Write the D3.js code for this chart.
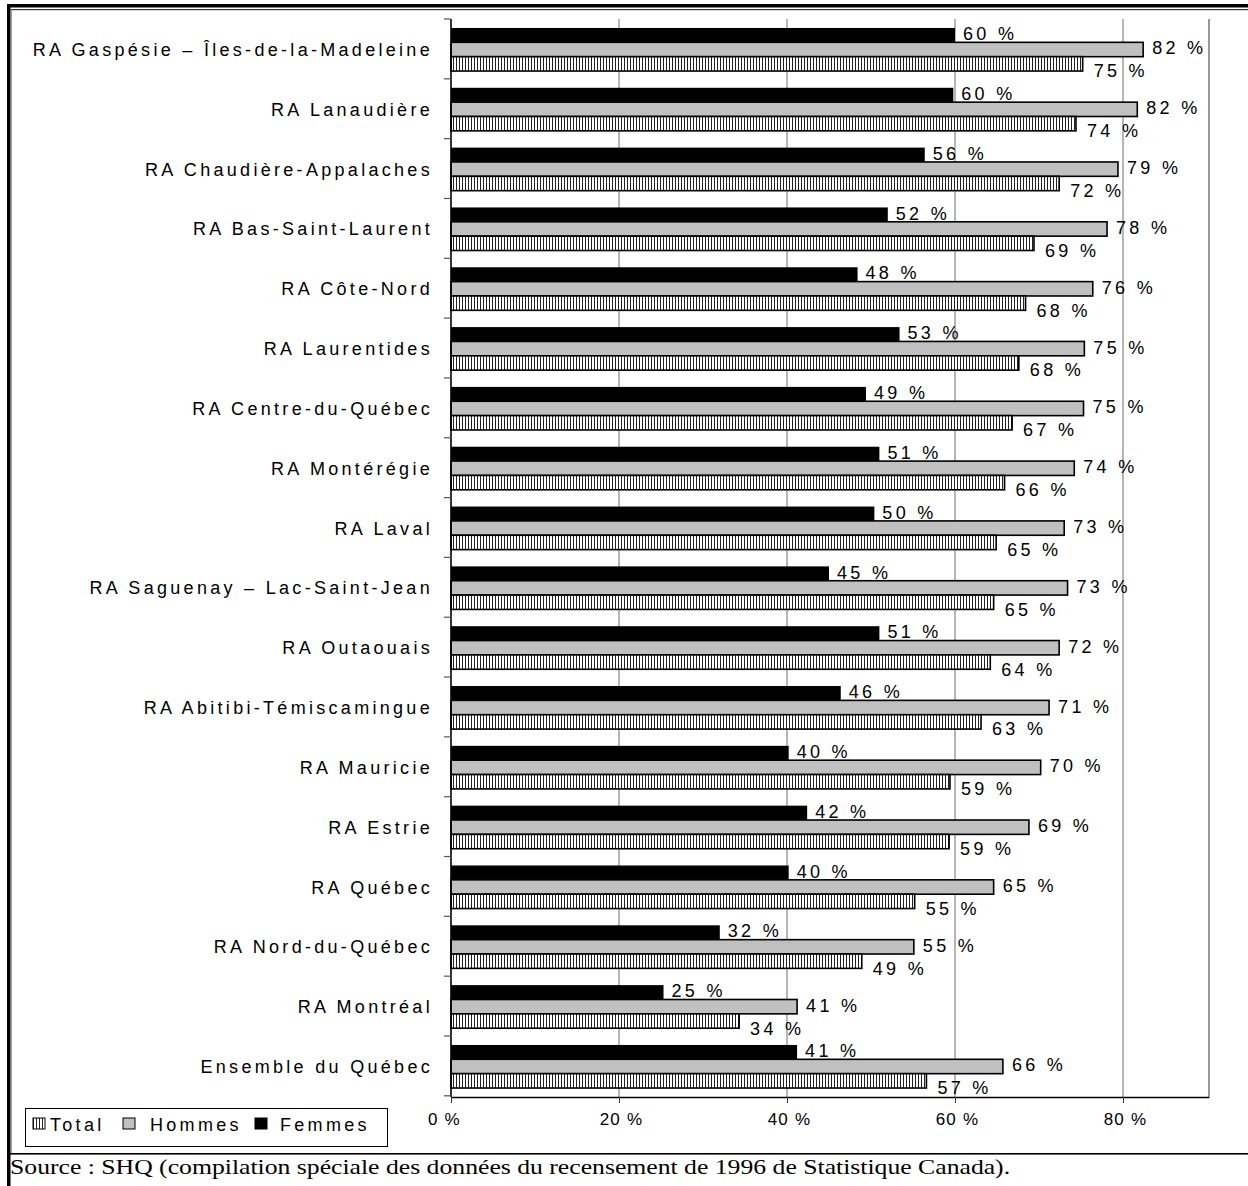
<!DOCTYPE html>
<html><head><meta charset="utf-8">
<script src="https://cdn.jsdelivr.net/npm/d3@7"></script>
<style>
html,body{margin:0;padding:0;background:#fff;}
svg{display:block;}
</style>
</head><body>
<svg id="chart" width="1248" height="1186"></svg>
<script>
const categories = [
  "RA Gaspésie – Îles-de-la-Madeleine",
  "RA Lanaudière",
  "RA Chaudière-Appalaches",
  "RA Bas-Saint-Laurent",
  "RA Côte-Nord",
  "RA Laurentides",
  "RA Centre-du-Québec",
  "RA Montérégie",
  "RA Laval",
  "RA Saguenay – Lac-Saint-Jean",
  "RA Outaouais",
  "RA Abitibi-Témiscamingue",
  "RA Mauricie",
  "RA Estrie",
  "RA Québec",
  "RA Nord-du-Québec",
  "RA Montréal",
  "Ensemble du Québec"
];
const femmes = [60.0, 59.8, 56.4, 52.0, 48.4, 53.4, 49.4, 51.0, 50.4, 45.0, 51.0, 46.4, 40.2, 42.4, 40.2, 32.0, 25.3, 41.2];
const hommes = [82.4, 81.7, 79.4, 78.1, 76.4, 75.4, 75.3, 74.2, 73.0, 73.4, 72.4, 71.2, 70.2, 68.8, 64.6, 55.1, 41.2, 65.7];
const total  = [75.2, 74.4, 72.4, 69.4, 68.4, 67.6, 66.8, 65.9, 64.9, 64.6, 64.2, 63.1, 59.4, 59.3, 55.2, 48.9, 34.3, 56.6];
const seriesNames = ["Femmes", "Hommes", "Total"];
const legendNames = ["Total", "Hommes", "Femmes"];
const xTickValues = [0, 20, 40, 60, 80];

(function(){
const svg = d3.select("#chart");
const FONT = "'Liberation Sans', Arial, sans-serif";
const FS = 18, LS = 3.3;

const defs = svg.append("defs");
const pat = defs.append("pattern").attr("id","hatch").attr("patternUnits","userSpaceOnUse")
  .attr("width",3).attr("height",10);
pat.append("rect").attr("width",3).attr("height",10).attr("fill","#fff");
pat.append("rect").attr("x",0).attr("width",1).attr("height",10).attr("fill","#222");

const fills = {Femmes:"#000", Hommes:"#c0c0c0", Total:"url(#hatch)"};

// Frame
svg.append("rect").attr("x",7).attr("y",4).attr("width",1241).attr("height",3.5).attr("fill","#000");
svg.append("rect").attr("x",7).attr("y",9).attr("width",1241).attr("height",1.2).attr("fill","#333");
svg.append("rect").attr("x",7).attr("y",4).attr("width",3.5).attr("height",1182).attr("fill","#000");
svg.append("rect").attr("x",10.5).attr("y",9).attr("width",1.2).attr("height",1144).attr("fill","#777");
svg.append("rect").attr("x",7).attr("y",1153).attr("width",1241).attr("height",1.6).attr("fill","#000");

const pL = 451, pR = 1207, pT = 19, pB = 1097;
const x = d3.scaleLinear().domain([0, 90]).range([pL, pR]);
const y = d3.scaleBand().domain(categories).range([pT, pB]).paddingInner(0.28).paddingOuter(0.15);
const ys = d3.scaleBand().domain(seriesNames).range([0, y.bandwidth()]);

const g = svg.append("g");
g.selectAll("line.grid").data(xTickValues.filter(d=>d>0)).join("line")
  .attr("x1", d=>x(d)).attr("x2", d=>x(d)).attr("y1", pT).attr("y2", pB)
  .attr("stroke","#6e6e6e").attr("stroke-width",1);
g.append("line").attr("x1",pR+2).attr("x2",pR+2).attr("y1",pT).attr("y2",pB+1)
  .attr("stroke","#999").attr("stroke-width",2);

const data = {Femmes: femmes, Hommes: hommes, Total: total};
const labelDx = {Femmes: 8, Hommes: 9, Total: 11};
const labelDy = {Femmes: -1.5, Hommes: -1.5, Total: 7};

seriesNames.forEach(s => {
  g.selectAll("rect.b"+s).data(categories).join("rect")
    .attr("x", x(0))
    .attr("y", (c)=> y(c) + ys(s))
    .attr("width", (c,i)=> x(data[s][i]) - x(0))
    .attr("height", ys.bandwidth())
    .attr("fill", fills[s])
    .attr("stroke", s==="Femmes" ? "none" : "#000")
    .attr("stroke-width", 1.6);
});
seriesNames.forEach(s => {
  g.selectAll("text.l"+s).data(categories).join("text")
    .attr("x", (c,i)=> x(data[s][i]) + labelDx[s])
    .attr("y", (c)=> y(c) + ys(s) + ys.bandwidth()/2 + labelDy[s])
    .attr("dy","0.36em")
    .attr("font-family", FONT).attr("font-size", FS).attr("letter-spacing", LS)
    .attr("fill","#000")
    .text((c,i)=> Math.round(data[s][i]) + " %");
});

svg.append("line").attr("x1",pL).attr("x2",pL).attr("y1",pT).attr("y2",pB)
  .attr("stroke","#000").attr("stroke-width",1.6);
const bounds = d3.range(categories.length+1).map(i => pT + i*y.step());
svg.selectAll("line.ct").data(bounds).join("line")
  .attr("x1",pL-7).attr("x2",pL).attr("y1",d=>d).attr("y2",d=>d)
  .attr("stroke","#555").attr("stroke-width",1.2);
svg.selectAll("text.cat").data(categories).join("text")
  .attr("x", 433).attr("y", c=> y(c) + y.bandwidth()/2)
  .attr("dy","0.36em").attr("text-anchor","end")
  .attr("font-family", FONT).attr("font-size", FS).attr("letter-spacing", LS)
  .text(c=>c);

const xAxis = d3.axisBottom(x).tickValues(xTickValues).tickSize(6).tickFormat(d=> d + " %");
const xAx = svg.append("g").attr("transform",`translate(0,${pB})`).call(xAxis);
xAx.select(".domain").attr("stroke","#000").attr("stroke-width",1.6).attr("d", `M${pL},0.5H${pR+2}`);
xAx.selectAll(".tick line").attr("stroke","#333");
xAx.selectAll(".tick text").attr("font-family", FONT).attr("font-size", 17).attr("letter-spacing", 1.2)
  .attr("fill","#000").attr("y", 22).attr("dy","0.36em").attr("dx", d => d === 0 ? -7 : 2);

const lg = svg.append("g");
lg.append("rect").attr("x",25.5).attr("y",1108.5).attr("width",362).attr("height",38)
  .attr("fill","#fff").attr("stroke","#000").attr("stroke-width",1);
const legX = {Total: 33, Hommes: 123, Femmes: 255};
const legTX = {Total: 50, Hommes: 150, Femmes: 280};
legendNames.forEach(s => {
  lg.append("rect").attr("x", legX[s]).attr("y", 1118).attr("width", 12).attr("height", 11)
    .attr("fill", fills[s]).attr("stroke","#000").attr("stroke-width",1);
  lg.append("text").attr("x", legTX[s]).attr("y", 1124.5).attr("dy","0.36em")
    .attr("font-family", FONT).attr("font-size", FS).attr("letter-spacing", LS).text(s);
});

svg.append("text").attr("transform", "translate(10,1174) scale(1.285,1)")
  .attr("font-family","'Liberation Serif', 'Times New Roman', serif").attr("font-size", 20)
  .text("Source : SHQ (compilation spéciale des données du recensement de 1996 de Statistique Canada).");
})();
</script>
</body></html>
